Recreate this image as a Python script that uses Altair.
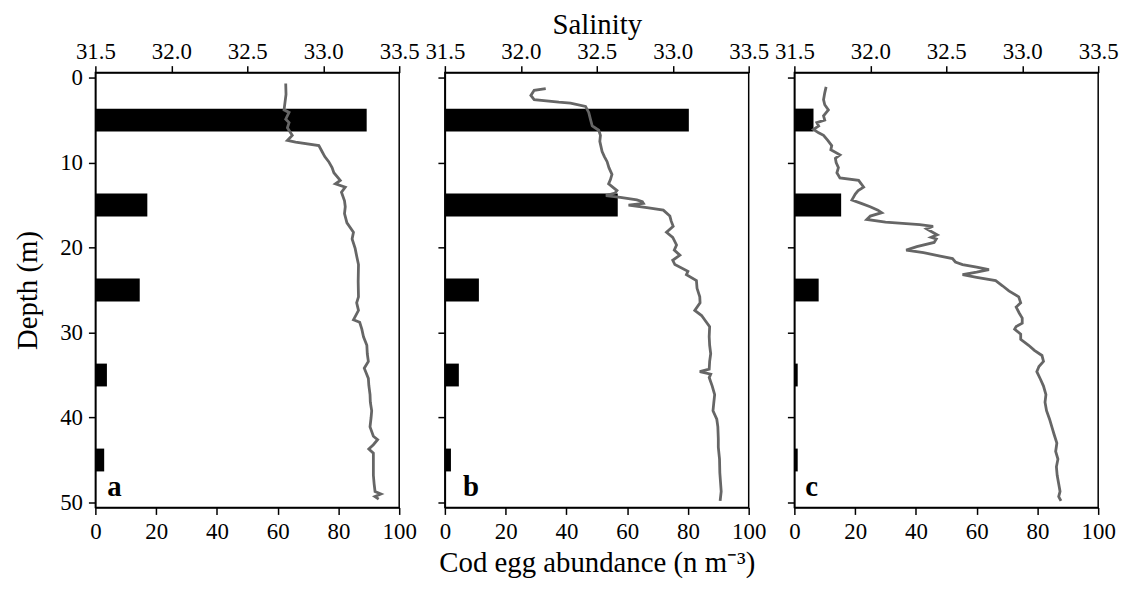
import altair as alt
import pandas as pd

# ---------------- data ----------------
bar_depths = [5, 15, 25, 35, 45]
abund_a = [89.3, 17.1, 14.6, 3.8, 2.9]
abund_b = [80.3, 56.9, 11.2, 4.6, 2.0]
abund_c = [6.3, 15.4, 8.0, 1.1, 1.1]

sal_a_depth = [0.7, 2.0, 3.8, 4.1, 4.9, 5.3, 5.9, 6.8, 7.4, 7.6, 8.0, 8.7, 9.3, 9.9, 10.6, 11.2,
               12.1, 12.5, 12.9, 13.5, 14.5, 15.2, 16.0, 17.1, 18.2, 19.0, 20.1, 21.0, 22.0, 24.0,
               25.8, 26.5, 27.4, 28.3, 28.5, 28.8, 29.6, 30.5, 31.5, 32.5, 33.4, 34.2, 35.4, 36.2,
               37.3, 38.2, 39.2, 40.0, 41.1, 42.2, 42.6, 43.2, 43.7, 44.2, 44.9, 45.8, 46.8, 47.8,
               48.7, 49.0, 49.3, 49.6]
sal_a = [32.753, 32.755, 32.742, 32.775, 32.753, 32.775, 32.764, 32.796, 32.764, 32.818, 32.971,
         32.992, 33.010, 33.036, 33.058, 33.070, 33.112, 33.080, 33.145, 33.120, 33.140, 33.145,
         33.140, 33.156, 33.199, 33.190, 33.210, 33.220, 33.232, 33.230, 33.232, 33.220, 33.232,
         33.205, 33.199, 33.240, 33.254, 33.265, 33.287, 33.290, 33.297, 33.270, 33.297, 33.300,
         33.308, 33.310, 33.319, 33.315, 33.308, 33.330, 33.358, 33.330, 33.300, 33.330, 33.330,
         33.330, 33.330, 33.335, 33.341, 33.380, 33.340, 33.365]

sal_b_depth = [1.3, 1.5, 2.1, 2.6, 2.9, 3.0, 3.4, 4.1, 4.9, 5.7, 6.2, 6.8, 7.5, 8.7, 9.3, 9.9,
               10.6, 11.4, 12.0, 12.5, 13.3, 13.6, 13.9, 14.1, 14.4, 14.6, 14.8, 15.0, 15.3, 15.6,
               16.3, 16.9, 17.5, 18.2, 18.8, 19.7, 20.3, 20.9, 21.5, 22.0, 22.8, 23.2, 23.9, 24.8,
               25.8, 26.5, 27.4, 28.0, 28.5, 29.3, 30.5, 31.5, 32.5, 33.4, 34.3, 34.6, 34.9, 35.3,
               36.3, 37.3, 38.3, 39.2, 40.2, 41.1, 42.5, 43.5, 44.9, 46.5, 48.7, 49.8]
sal_b = [32.164, 32.088, 32.066, 32.088, 32.250, 32.327, 32.426, 32.447, 32.458, 32.470, 32.513,
         32.524, 32.520, 32.535, 32.550, 32.568, 32.580, 32.600, 32.590, 32.578, 32.633, 32.620,
         32.560, 32.655, 32.764, 32.800, 32.807, 32.709, 32.830, 32.938, 32.981, 32.990, 33.003,
         32.959, 33.000, 33.025, 33.010, 33.047, 33.000, 33.014, 33.100, 33.090, 33.156, 33.160,
         33.178, 33.180, 33.145, 33.190, 33.210, 33.243, 33.240, 33.243, 33.250, 33.243, 33.240,
         33.178, 33.250, 33.240, 33.260, 33.276, 33.270, 33.265, 33.290, 33.297, 33.300, 33.300,
         33.308, 33.310, 33.319, 33.312]

sal_c_depth = [1.1, 1.8, 2.6, 3.2, 3.8, 4.5, 5.0, 5.3, 5.7, 6.1, 6.5, 6.8, 7.4, 8.0, 8.5, 9.1,
               9.5, 10.0, 10.6, 11.2, 11.8, 12.1, 12.5, 12.9, 13.3, 13.7, 14.4, 14.8, 15.2, 15.6,
               15.9, 16.3, 16.7, 17.0, 17.3, 17.5, 17.8, 18.2, 18.5, 18.8, 19.0, 19.4, 19.9, 20.3,
               20.6, 21.0, 21.3, 21.7, 22.0, 22.3, 22.6, 22.9, 23.2, 23.5, 23.9, 24.5, 25.1, 25.8,
               26.5, 27.0, 27.7, 28.3, 28.9, 29.3, 29.6, 30.2, 30.8, 31.5, 32.1, 32.7, 33.4, 34.0,
               34.6, 35.5, 36.3, 37.3, 38.2, 39.2, 40.2, 41.1, 42.0, 43.0, 44.0, 44.9, 45.8, 46.8,
               47.8, 48.7, 49.3, 49.8]
sal_c = [31.709, 31.700, 31.692, 31.700, 31.724, 31.692, 31.700, 31.648, 31.660, 31.626, 31.660,
         31.692, 31.720, 31.746, 31.740, 31.800, 31.770, 31.775, 31.790, 31.780, 31.800, 31.923,
         31.940, 31.956, 31.920, 31.901, 31.879, 31.940, 31.999, 32.050, 32.075, 32.000, 31.977,
         32.100, 32.325, 32.413, 32.370, 32.410, 32.440, 32.400, 32.434, 32.420, 32.306, 32.236,
         32.350, 32.460, 32.541, 32.560, 32.607, 32.700, 32.781, 32.700, 32.607, 32.700, 32.825,
         32.870, 32.912, 32.977, 32.990, 32.960, 32.980, 33.000, 33.000, 32.960, 32.950, 32.990,
         32.990, 33.042, 33.080, 33.130, 33.140, 33.110, 33.096, 33.120, 33.140, 33.156, 33.150,
         33.160, 33.180, 33.195, 33.210, 33.228, 33.220, 33.235, 33.225, 33.230, 33.240, 33.249,
         33.240, 33.255]

panel_labels = ["a", "b", "c"]
label_abund = [3.9, 6.0, 3.6]
label_depth = [48.2, 48.2, 48.2]

depth_ticks = [0, 10, 20, 30, 40, 50]
abund_ticks = [0, 20, 40, 60, 80, 100]
sal_ticks = [31.5, 32.0, 32.5, 33.0, 33.5]

FONT = "Liberation Serif"
W, H = 306, 438


def panel(i, abund, sd, sv):
    first = i == 0
    middle = i == 1
    bars_df = pd.DataFrame({"depth": bar_depths, "abundance": abund})
    line_df = pd.DataFrame({"depth": sd, "salinity": sv})
    lab_df = pd.DataFrame({"depth": [label_depth[i]], "abundance": [label_abund[i]],
                           "label": [panel_labels[i]]})

    yaxis = alt.Axis(values=depth_ticks, labels=first, format="d",
                     title="Depth (m)" if first else None, titlePadding=17)
    y = alt.Y("depth:Q", scale=alt.Scale(domain=[0, 50], reverse=True, nice=False), axis=yaxis)

    xscale = alt.Scale(domain=[0, 100], nice=False)
    xaxis = alt.Axis(orient="bottom", values=abund_ticks, format="d", labelFlush=False,
                     title="Cod egg abundance (n m⁻³)" if middle else None, titlePadding=5)

    bars = alt.Chart(bars_df).mark_bar(color="black", size=23, orient="horizontal").encode(
        x=alt.X("abundance:Q", scale=xscale, axis=xaxis),
        y=y,
    )
    txt = alt.Chart(lab_df).mark_text(font=FONT, fontSize=29, fontWeight="bold", align="left",
                                      baseline="middle", color="black").encode(
        x=alt.X("abundance:Q", scale=xscale, axis=xaxis),
        y=y,
        text="label:N",
    )
    saxis = alt.Axis(orient="top", values=sal_ticks, format=".1f", labelFlush=False,
                     labelPadding=2,
                     title="Salinity" if middle else None, titlePadding=1)
    line = alt.Chart(line_df).mark_line(color="#666666", strokeWidth=2.8).encode(
        x=alt.X("salinity:Q", scale=alt.Scale(domain=[31.5, 33.5], nice=False), axis=saxis),
        y=y,
        order=alt.Order("depth:Q"),
    )
    return alt.layer(alt.layer(bars, txt), line).resolve_scale(x="independent").properties(
        width=W, height=H)


chart = alt.hconcat(
    panel(0, abund_a, sal_a_depth, sal_a),
    panel(1, abund_b, sal_b_depth, sal_b),
    panel(2, abund_c, sal_c_depth, sal_c),
    spacing=46,
    bounds="flush",
).properties(
    background="white",
    padding={"left": 5, "top": 0, "right": 5, "bottom": 0},
).configure_view(stroke="black", strokeWidth=1.5).configure_axis(
    grid=False,
    labelFont=FONT, labelFontSize=23, labelColor="black", labelPadding=6, labelOverlap=False,
    titleFont=FONT, titleFontSize=29, titleColor="black", titleFontWeight="normal",
    tickColor="black", tickSize=7, tickWidth=1.5, domainColor="black", domainWidth=1.5,
)

chart.save("out.html", embed_options={"renderer": "svg", "actions": False})
